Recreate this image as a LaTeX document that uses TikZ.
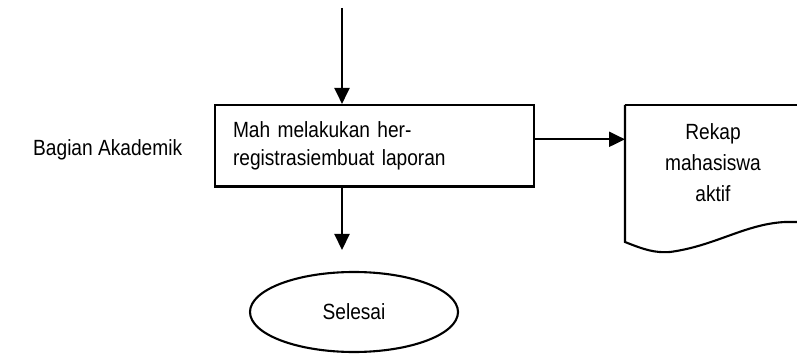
\documentclass[tikz,border=0pt]{standalone}
\usepackage{fontspec}
\setmainfont{Liberation Sans}[FakeStretch=0.87]
\usetikzlibrary{arrows.meta,shapes.geometric}

\tikzset{
  line/.style={line width=2.1pt},
  flow/.style={line, -{Triangle[length=16pt,width=15pt]}},
  procbox/.style={draw, line, rectangle, minimum width=319pt, minimum height=81.5pt,
    inner sep=0pt, text width=283pt, align=left, font=\fontsize{22}{28.4}\selectfont},
  endterm/.style={draw, line, ellipse, minimum width=208pt, minimum height=80pt,
    inner sep=0pt, font=\fontsize{22}{25}\selectfont},
  label/.style={font=\fontsize{22}{25}\selectfont, inner sep=0pt},
}

\begin{document}
\begin{tikzpicture}[x=1pt, y=-1pt]
  \useasboundingbox (0,0) rectangle (797,363);
  \clip (0,0) rectangle (797,363);

  % lane title
  \node[label, anchor=west] (lane) at (33,149.5) {Bagian Akademik};

  % process step
  \node[procbox] (box) at (374.5,145.75) {Mah melakukan her-\\registrasiembuat laporan};

  % terminator
  \node[endterm] (end) at (354,312) {Selesai};

  % document: outline drawn as a path, text in its own node
  \coordinate (docTL) at (625,105);
  \draw[line] (docTL) -- (625,242)
    .. controls (645,250) and (655,253) .. (670,252)
    .. controls (715,246) and (745,224) .. (785,222) -- (810,222);
  \draw[line] (docTL) -- (810,105);
  \node[label, align=center, font=\fontsize{22}{31}\selectfont] (doc) at (713,162.5)
    {Rekap\\mahasiswa\\aktif};

  % connectors
  \coordinate (inStart) at (342,8);
  \coordinate (outEnd) at (342,250);
  \coordinate (arrowY) at (0,139.3);
  \draw[flow] (inStart) -- (inStart |- box.north);
  \draw[flow] (outEnd |- box.south) -- (outEnd);
  \draw[flow] (box.east |- arrowY) -- (docTL |- arrowY);
\end{tikzpicture}
\end{document}
